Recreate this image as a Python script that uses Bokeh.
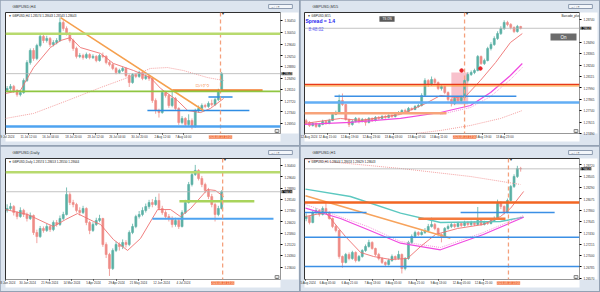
from bokeh.plotting import figure
from bokeh.models import (Range1d, FixedTicker, PrintfTickFormatter, Span, Label,
                          BoxAnnotation, ColumnDataSource)
from bokeh.layouts import row, column
from bokeh.embed import file_html
from bokeh.resources import INLINE

# ---------------- data: GBPUSD H4 ----------------
h4_open0 = 1.2808
h4_close = [1.2814, 1.2821, 1.2807, 1.2793, 1.2800, 1.2841, 1.2902, 1.2943, 1.2916, 1.2960,
            1.2991, 1.2977, 1.2984, 1.2963, 1.2970, 1.2977, 1.3038, 1.3018, 1.3001, 1.2977,
            1.2950, 1.2923, 1.2926, 1.2919, 1.2929, 1.2919, 1.2923, 1.2909, 1.2926, 1.2923,
            1.2902, 1.2895, 1.2882, 1.2868, 1.2875, 1.2882, 1.2858, 1.2834, 1.2861, 1.2855,
            1.2868, 1.2848, 1.2855, 1.2848, 1.2773, 1.2739, 1.2732, 1.2800, 1.2790, 1.2756,
            1.2780, 1.2746, 1.2698, 1.2712, 1.2691, 1.2705, 1.2685, 1.2739, 1.2746, 1.2756,
            1.2753, 1.2763, 1.2759, 1.2776, 1.2807, 1.28643]
h4_high = [1.2822, 1.2829, 1.2826, 1.2812, 1.2808, 1.2848, 1.2910, 1.2950, 1.2951, 1.2966,
           1.3000, 1.2998, 1.2993, 1.2989, 1.2978, 1.2985, 1.3055, 1.3046, 1.3025, 1.3006,
           1.2983, 1.2956, 1.2934, 1.2932, 1.2936, 1.2934, 1.2930, 1.2927, 1.2931, 1.2936,
           1.2927, 1.2908, 1.2900, 1.2887, 1.2881, 1.2888, 1.2886, 1.2862, 1.2866, 1.2867,
           1.2874, 1.2872, 1.2862, 1.2860, 1.2853, 1.2780, 1.2745, 1.2808, 1.2806, 1.2795,
           1.2808, 1.2785, 1.2750, 1.2720, 1.2716, 1.2726, 1.2712, 1.2745, 1.2756, 1.2763,
           1.2762, 1.2770, 1.2776, 1.2782, 1.2813, 1.2870]
h4_low = [1.2801, 1.2806, 1.2799, 1.2786, 1.2787, 1.2796, 1.2836, 1.2895, 1.2908, 1.2910,
          1.2954, 1.2968, 1.2970, 1.2955, 1.2957, 1.2964, 1.2972, 1.3010, 1.2994, 1.2970,
          1.2942, 1.2916, 1.2917, 1.2912, 1.2914, 1.2913, 1.2914, 1.2903, 1.2905, 1.2917,
          1.2896, 1.2889, 1.2876, 1.2862, 1.2863, 1.2870, 1.2852, 1.2819, 1.2830, 1.2849,
          1.2850, 1.2842, 1.2843, 1.2840, 1.2765, 1.2728, 1.2715, 1.2728, 1.2783, 1.2748,
          1.2750, 1.2738, 1.2690, 1.2692, 1.2684, 1.2686, 1.2675, 1.2680, 1.2732, 1.2740,
          1.2747, 1.2748, 1.2753, 1.2754, 1.2771, 1.2803]
h4_ma_fast_x = [-0.5, 4.0, 8.0, 13.1, 16.2, 19.2, 22.2, 28.3, 32.2, 38.3, 43.4, 46.5, 51.6, 54.7, 58.6, 61.6, 65.6]
h4_ma_fast_y = [1.2797, 1.2807, 1.2885, 1.2953, 1.2977, 1.2987, 1.2953, 1.2933, 1.2899, 1.2875,
                1.2851, 1.2814, 1.2773, 1.2739, 1.2732, 1.2746, 1.2780]
h4_ma_slow_x = [-0.5, 8.0, 18.3, 28.3, 38.3, 43.4, 48.6, 53.4, 60.7, 65.6]
h4_ma_slow_y = [1.2712, 1.2729, 1.2773, 1.2817, 1.2858, 1.2882, 1.2885, 1.2875, 1.2851, 1.2841]
h4_green_levels = [1.3000, 1.2804]
h4_resistance = 1.2807
h4_resistance_span = [50.1, 77.4]
h4_blue_levels = [1.2785, 1.2739]
h4_blue_spans = [[61.0, 68.3], [42.5, 73.4]]
h4_support = 1.2685
h4_trend_x = [16.2, 59.5]
h4_trend_y = [1.3055, 1.2739]
h4_price_ticks = [1.30450, 1.30050, 1.29640, 1.29250, 1.28880, 1.28490, 1.28110, 1.27720, 1.27340, 1.26950]
h4_time_ticks = [-0.45, 6.47, 13.14, 20.1, 26.8, 33.4, 40.1, 47.1, 53.4]
h4_time_labels = ["9 Jul 2024", "11 Jul 12:00", "16 Jul 04:00", "18 Jul 20:00", "23 Jul 12:00",
                  "26 Jul 04:00", "30 Jul 20:00", "2 Aug 12:00", "7 Aug 04:00"]

# ---------------- data: GBPUSD M15 ----------------
m15_open0 = 1.27630
m15_close = [1.27610, 1.27577, 1.27599, 1.27566, 1.27588, 1.27621, 1.27599, 1.27632, 1.27698, 1.27719,
             1.27851, 1.27807, 1.27643, 1.27588, 1.27621, 1.27654, 1.27621, 1.27643, 1.27610, 1.27654,
             1.27632, 1.27665, 1.27654, 1.27676, 1.27665, 1.27687, 1.27676, 1.27708, 1.27719, 1.27741,
             1.27730, 1.27763, 1.27752, 1.27785, 1.27796, 1.27906, 1.28070, 1.28026, 1.28081, 1.28048,
             1.27983, 1.28004, 1.27939, 1.27862, 1.27818, 1.27873, 1.27851, 1.27884, 1.28070, 1.28136,
             1.28158, 1.28180, 1.28333, 1.28257, 1.28289, 1.28421, 1.28465, 1.28531, 1.28585, 1.28640,
             1.28706, 1.28684, 1.28651, 1.28607, 1.28662, 1.28643]
m15_high = [1.27650, 1.27625, 1.27615, 1.27610, 1.27605, 1.27640, 1.27630, 1.27650, 1.27715, 1.27740,
            1.27917, 1.27928, 1.27815, 1.27650, 1.27640, 1.27670, 1.27665, 1.27660, 1.27655, 1.27670,
            1.27665, 1.27680, 1.27680, 1.27690, 1.27690, 1.27700, 1.27700, 1.27725, 1.27735, 1.27755,
            1.27760, 1.27780, 1.27775, 1.27800, 1.27815, 1.27930, 1.28095, 1.28085, 1.28114, 1.28100,
            1.28060, 1.28025, 1.28015, 1.27950, 1.27875, 1.27890, 1.27895, 1.27905, 1.28090, 1.28160,
            1.28180, 1.28200, 1.28350, 1.28345, 1.28310, 1.28440, 1.28490, 1.28555, 1.28610, 1.28665,
            1.28730, 1.28725, 1.28700, 1.28665, 1.28680, 1.28670]
m15_low = [1.27585, 1.27560, 1.27565, 1.27550, 1.27555, 1.27580, 1.27585, 1.27590, 1.27625, 1.27690,
           1.27710, 1.27790, 1.27630, 1.27560, 1.27575, 1.27610, 1.27600, 1.27610, 1.27575, 1.27600,
           1.27615, 1.27620, 1.27640, 1.27645, 1.27650, 1.27655, 1.27660, 1.27665, 1.27695, 1.27705,
           1.27715, 1.27720, 1.27740, 1.27745, 1.27770, 1.27785, 1.27895, 1.28000, 1.28010, 1.28030,
           1.27965, 1.27960, 1.27920, 1.27840, 1.27785, 1.27800, 1.27830, 1.27835, 1.27875, 1.28050,
           1.28120, 1.28140, 1.28170, 1.28240, 1.28240, 1.28280, 1.28400, 1.28450, 1.28515, 1.28570,
           1.28625, 1.28665, 1.28630, 1.28590, 1.28595, 1.28630]
m15_ma_fast_x = [-0.5, 10.4, 16.5, 28.6, 36.2, 40.7, 45.3, 48.3, 52.8, 57.4, 61.9, 65.5]
m15_ma_fast_y = [1.27599, 1.27654, 1.27632, 1.27698, 1.27818, 1.27906, 1.27884, 1.27895, 1.28070,
                 1.28267, 1.28487, 1.28585]
m15_ma_mid_x = [-0.5, 13.4, 28.6, 40.7, 49.8, 55.9, 61.9, 65.5]
m15_ma_mid_y = [1.27588, 1.27610, 1.27654, 1.27719, 1.27796, 1.27939, 1.28125, 1.28257]
m15_ma_mid2_x = [40.7, 49.8, 55.9, 61.9, 65.5]
m15_ma_mid2_y = [1.27698, 1.27774, 1.27895, 1.28081, 1.28213]
m15_ma_slow_x = [33.1, 40.7, 49.8, 58.9, 65.5]
m15_ma_slow_y = [1.27489, 1.27522, 1.27577, 1.27654, 1.27741]
m15_red_level = 1.28019
m15_blue_level = 1.27898
m15_blue_span = [8.6, 63.7]
m15_lightblue_level = 1.27829
m15_orange_level = 1.27712
m15_orange_span = [-0.5, 42.5]
m15_zone = [44.0, 49.1, 1.27807, 1.28158]
m15_signal_x = [47.1, 52.8]
m15_signal_y = [1.28180, 1.28202]
m15_price_ticks = [1.28740, 1.28490, 1.28365, 1.28240, 1.28115, 1.27990, 1.27865, 1.27740, 1.27615, 1.27490]
m15_time_ticks = [-0.45, 6.5, 13.2, 19.8, 26.5, 33.5, 40.2, 53.5, 60.2]
m15_time_labels = ["12 Aug 2024", "12 Aug 15:00", "12 Aug 19:00", "12 Aug 23:00", "13 Aug 03:00",
                   "13 Aug 07:00", "13 Aug 11:00", "13 Aug 19:00", "13 Aug 23:00"]

# ---------------- data: GBPUSD Daily ----------------
d1_open0 = 1.2740
d1_close = [1.2752, 1.2765, 1.2725, 1.2698, 1.2739, 1.2712, 1.2685, 1.2705, 1.2591, 1.2564,
            1.2618, 1.2605, 1.2631, 1.2611, 1.2658, 1.2645, 1.2685, 1.2712, 1.2846, 1.2792,
            1.2779, 1.2739, 1.2725, 1.2752, 1.2658, 1.2605, 1.2645, 1.2672, 1.2685, 1.2511,
            1.2444, 1.2350, 1.2471, 1.2511, 1.2497, 1.2524, 1.2511, 1.2591, 1.2631, 1.2698,
            1.2712, 1.2739, 1.2765, 1.2792, 1.2779, 1.2806, 1.2752, 1.2725, 1.2698, 1.2685,
            1.2645, 1.2672, 1.2631, 1.2725, 1.2792, 1.2913, 1.2980, 1.3007, 1.2953, 1.2913,
            1.2873, 1.2832, 1.2779, 1.2712, 1.2752, 1.28643]
d1_high = [1.2780, 1.2790, 1.2775, 1.2735, 1.2760, 1.2750, 1.2725, 1.2725, 1.2712, 1.2610,
           1.2635, 1.2632, 1.2650, 1.2645, 1.2672, 1.2675, 1.2705, 1.2730, 1.2893, 1.2860,
           1.2810, 1.2790, 1.2760, 1.2770, 1.2760, 1.2670, 1.2660, 1.2690, 1.2710, 1.2690,
           1.2525, 1.2455, 1.2485, 1.2530, 1.2525, 1.2545, 1.2540, 1.2605, 1.2650, 1.2710,
           1.2735, 1.2760, 1.2785, 1.2810, 1.2815, 1.2830, 1.2853, 1.2770, 1.2740, 1.2715,
           1.2700, 1.2690, 1.2685, 1.2740, 1.2810, 1.2930, 1.2995, 1.3044, 1.3015, 1.2970,
           1.2925, 1.2890, 1.2850, 1.2790, 1.2770, 1.2875]
d1_low = [1.2725, 1.2740, 1.2705, 1.2680, 1.2690, 1.2695, 1.2665, 1.2675, 1.2575, 1.2520,
          1.2555, 1.2590, 1.2595, 1.2595, 1.2600, 1.2630, 1.2635, 1.2675, 1.2705, 1.2775,
          1.2760, 1.2725, 1.2705, 1.2715, 1.2640, 1.2580, 1.2595, 1.2635, 1.2660, 1.2495,
          1.2420, 1.2300, 1.2340, 1.2460, 1.2470, 1.2480, 1.2490, 1.2500, 1.2580, 1.2620,
          1.2685, 1.2700, 1.2725, 1.2750, 1.2760, 1.2770, 1.2740, 1.2710, 1.2680, 1.2665,
          1.2625, 1.2630, 1.2615, 1.2625, 1.2715, 1.2785, 1.2900, 1.2970, 1.2940, 1.2895,
          1.2855, 1.2815, 1.2760, 1.2665, 1.2700, 1.2745]
d1_ma_x = [-0.5, 6.2, 14.0, 17.7, 21.3, 26.2, 28.3, 32.2, 36.5, 40.4, 45.6, 49.5, 52.5, 55.6, 60.7, 63.1, 65.6]
d1_ma_y = [1.2745, 1.2712, 1.2631, 1.2678, 1.2718, 1.2665, 1.2645, 1.2544, 1.2471, 1.2551,
           1.2745, 1.2745, 1.2698, 1.2752, 1.2879, 1.2873, 1.2832]
d1_green_top = 1.2995
d1_green_mid = 1.2801
d1_green_mid_span = [52.2, 74.9]
d1_blue_level = 1.2683
d1_blue_span = [44.0, 80.7]
d1_price_ticks = [1.30400, 1.29640, 1.28880, 1.28140, 1.27380, 1.26620, 1.25860, 1.25120, 1.24360, 1.23600]
d1_time_ticks = [-0.45, 6.2, 12.9, 19.6, 26.2, 33.2, 39.8, 46.8, 53.4]
d1_time_labels = ["8 Jan 2024", "30 Jan 2024", "21 Feb 2024", "14 Mar 2024", "5 Apr 2024",
                  "29 Apr 2024", "21 May 2024", "12 Jun 2024", "4 Jul 2024"]

# ---------------- data: GBPUSD H1 ----------------
h1_open0 = 1.27700
h1_close = [1.27740, 1.27627, 1.27816, 1.27854, 1.27778, 1.27892, 1.27816, 1.27702, 1.27551, 1.27475,
            1.26982, 1.26869, 1.27020, 1.26944, 1.27058, 1.26906, 1.26982, 1.27096, 1.27172, 1.27248,
            1.27134, 1.27020, 1.26944, 1.26869, 1.26831, 1.26906, 1.26982, 1.26944, 1.27020, 1.26755,
            1.26944, 1.27248, 1.27361, 1.27437, 1.27399, 1.27437, 1.27475, 1.27551, 1.27589, 1.27513,
            1.27399, 1.27361, 1.27513, 1.27551, 1.27589, 1.27551, 1.27608, 1.27570, 1.27627, 1.27589,
            1.27627, 1.27589, 1.27665, 1.27589, 1.27627, 1.27608, 1.27665, 1.27702, 1.28006, 1.27930,
            1.27816, 1.28043, 1.28309, 1.28498, 1.28650, 1.28643]
h1_high = [1.27800, 1.27760, 1.27850, 1.27900, 1.27880, 1.27930, 1.28010, 1.27840, 1.27720, 1.27580,
           1.27490, 1.27000, 1.27050, 1.27060, 1.27090, 1.27080, 1.27010, 1.27120, 1.27210, 1.27300,
           1.27270, 1.27150, 1.27050, 1.26970, 1.26890, 1.26940, 1.27020, 1.27000, 1.27090, 1.27040,
           1.26970, 1.27280, 1.27400, 1.27470, 1.27460, 1.27480, 1.27520, 1.27600, 1.27720, 1.27620,
           1.27530, 1.27420, 1.27540, 1.27590, 1.27620, 1.27610, 1.27640, 1.27630, 1.27660, 1.27650,
           1.27660, 1.27650, 1.27920, 1.27690, 1.27660, 1.27650, 1.27690, 1.27740, 1.28060, 1.28030,
           1.27950, 1.28080, 1.28340, 1.28540, 1.28700, 1.28680]
h1_low = [1.27650, 1.27590, 1.27610, 1.27790, 1.27740, 1.27760, 1.27790, 1.27680, 1.27520, 1.27440,
          1.26940, 1.26770, 1.26850, 1.26910, 1.26920, 1.26870, 1.26880, 1.26960, 1.27070, 1.27150,
          1.27110, 1.26990, 1.26910, 1.26840, 1.26800, 1.26810, 1.26880, 1.26910, 1.26920, 1.26660,
          1.26720, 1.26920, 1.27220, 1.27330, 1.27370, 1.27380, 1.27410, 1.27450, 1.27530, 1.27480,
          1.27360, 1.27250, 1.27340, 1.27490, 1.27520, 1.27520, 1.27530, 1.27540, 1.27550, 1.27560,
          1.27560, 1.27560, 1.27570, 1.27560, 1.27570, 1.27580, 1.27590, 1.27640, 1.27690, 1.27880,
          1.27780, 1.27800, 1.28020, 1.28280, 1.28470, 1.28590]
h1_teal_x = [-0.2, 13.4, 28.6, 40.7, 58.9, 65.9]
h1_teal_y = [1.28258, 1.28119, 1.27803, 1.27627, 1.27646, 1.27727]
h1_magenta_x = [-0.2, 10.4, 18.6, 28.6, 40.7, 53.7, 65.9]
h1_magenta_y = [1.27898, 1.27702, 1.27494, 1.27234, 1.27109, 1.27399, 1.27727]
h1_pink_x = [-0.2, 18.6, 28.6, 40.7, 53.7, 65.9]
h1_pink_y = [1.27968, 1.27551, 1.27266, 1.27152, 1.27437, 1.27759]
h1_fast_x = [-0.2, 5.9, 11.9, 16.5, 20.4, 25.6, 30.7, 34.7, 39.2, 45.9, 53.7, 58.9, 61.9, 65.9]
h1_fast_y = [1.27740, 1.27816, 1.27361, 1.27058, 1.26982, 1.26925, 1.26944, 1.27172, 1.27399,
             1.27513, 1.27589, 1.27740, 1.27892, 1.28214]
h1_slow_x = [-0.2, 28.6, 49.8, 64.9]
h1_slow_y = [1.28820, 1.28650, 1.28498, 1.28347]
h1_trend_x = [-0.2, 43.7]
h1_trend_y = [1.28133, 1.27329]
h1_orange_level = 1.28006
h1_blue_mid = 1.27816
h1_blue_mid_spans = [[-0.5, 18.3], [46.8, 75.3]]
h1_orange_short = 1.27697
h1_orange_short_span = [34.0, 60.4]
h1_blue_levels = [1.27348, 1.26793]
h1_price_ticks = [1.28720, 1.28505, 1.28290, 1.28075, 1.27860, 1.27645, 1.27430, 1.27215, 1.27000,
                  1.26785, 1.26570]
h1_time_ticks = [-0.2, 6.5, 13.2, 20.1, 26.5, 33.4, 40.1, 47.1, 53.8]
h1_time_labels = ["5 Aug 2024", "6 Aug 05:00", "6 Aug 21:00", "7 Aug 13:00", "8 Aug 05:00",
                  "8 Aug 21:00", "9 Aug 13:00", "12 Aug 05:00", "12 Aug 21:00"]

last_price = 1.28643
stamp_text = "2024.08.13 13:00"

# ---------------- styling ----------------
CHROME = "#dde5ef"
BULL = "#5bb0a5"
BEAR = "#ef8b86"
FONT = "Liberation Sans"
FRAME_W, FRAME_H = 275, 121
XSPAN = 83.33


def fr(ylo, yhi, sx, sy):
    return (-0.5 + sx * XSPAN / FRAME_W, yhi - sy * (yhi - ylo) / FRAME_H)


def add_label(p, ylo, yhi, sx, sy, text, size="3px", color="#222222", align="left",
              bg=None, border=None, pad=0, bold=False, font=FONT, side=None):
    x, y = fr(ylo, yhi, sx, sy)
    lab = Label(x=x, y=y, text=text, text_font_size=size, text_color=color,
                text_align=align, text_baseline="middle", text_font=font,
                text_font_style="bold" if bold else "normal",
                background_fill_color=bg, border_line_color=border, padding=pad)
    if side is None:
        p.add_layout(lab)
    else:
        p.add_layout(lab, side)


def panel(title, info, o0, close, high, low, ylo, yhi, pticks, tticks, tlabels, dash,
          left, right):
    p = figure(width=299, height=145, margin=(0, 1, 1, 0), output_backend="svg",
               toolbar_location=None, title=None, x_range=Range1d(-0.5, -0.5 + XSPAN),
               y_range=Range1d(ylo, yhi), y_axis_location="right",
               min_border_left=left, min_border_right=right, min_border_top=12,
               min_border_bottom=12, background_fill_color="white",
               border_fill_color=CHROME, outline_line_color="#303030", outline_line_width=1)
    p.grid.visible = False

    yax = p.yaxis[0]
    yax.ticker = FixedTicker(ticks=pticks)
    yax.formatter = PrintfTickFormatter(format="%.5f")
    yax.major_label_text_font = FONT
    yax.major_label_text_font_size = "3px"
    yax.major_label_text_color = "#333333"
    yax.major_tick_out = 2
    yax.major_tick_in = 0
    yax.minor_tick_line_color = None
    yax.axis_line_color = None
    yax.major_label_standoff = 2
    yax.background_fill_color = "white"

    xax = p.xaxis[0]
    xax.ticker = FixedTicker(ticks=tticks)
    xax.major_label_overrides = {t: l for t, l in zip(tticks, tlabels)}
    xax.major_label_text_align = "left"
    xax.major_label_text_font = FONT
    xax.major_label_text_font_size = "3px"
    xax.major_label_text_color = "#333333"
    xax.major_tick_out = 1
    xax.major_tick_in = 0
    xax.minor_tick_line_color = None
    xax.axis_line_color = None
    xax.major_label_standoff = 1
    xax.background_fill_color = "white"

    opens = [o0] + close[:-1]
    n = len(close)
    src = ColumnDataSource(dict(
        x=list(range(n)),
        top=[max(o, c) for o, c in zip(opens, close)],
        bot=[min(o, c) for o, c in zip(opens, close)],
        hi=[max(h, o, c) for h, o, c in zip(high, opens, close)],
        lo=[min(l, o, c) for l, o, c in zip(low, opens, close)],
        col=[BULL if c >= o else BEAR for o, c in zip(opens, close)]))
    p.segment(x0="x", y0="hi", x1="x", y1="lo", line_color="col", line_width=0.8, source=src)
    p.vbar(x="x", width=0.6, top="top", bottom="bot", fill_color="col", line_color="col",
           line_width=0.6, source=src)

    p.add_layout(Span(location=last_price, dimension="width", line_color="#b4b4b4", line_width=0.8))
    p.add_layout(Span(location=dash, dimension="height", line_color="#f4a07c", line_width=1.3,
                      line_dash="4 3"))

    xd = (dash + 0.5) * FRAME_W / XSPAN
    # chart info line, time-line marker and scroll button (inside the chart)
    add_label(p, ylo, yhi, 3, 3.5, info, size="3px", color="#222222")
    add_label(p, ylo, yhi, xd + 2.5, 1.8, "\u25be", size="3.5px", color="#333333", align="center")
    add_label(p, ylo, yhi, 271.5, 118.5, "+", size="3px", color="#333333", align="center",
              bg="#e8e8e8", border="#888888", pad=(1, 1, 0, 0))
    # window title (title bar) -- side panel labels so they are not clipped by the frame
    add_label(p, ylo, yhi, 12 - left, -6, title, size="4px", color="#333333", side="above")
    add_label(p, ylo, yhi, 280 - left, -6, "\u2013      \u25a1      \u00d7", size="3.5px",
              color="#333333", align="center", bg="#f3f6fa", border="#8d9bb0", pad=(3, 3, 0, 0),
              side="above")
    # current price box on the price scale
    add_label(p, ylo, yhi, FRAME_W + 1, (yhi - last_price) / (yhi - ylo) * FRAME_H,
              "1.28643", size="3px", color="white", bg="#111111", side="above")
    # time stamp of the vertical line on the time scale
    add_label(p, ylo, yhi, xd, FRAME_H + 3.5, stamp_text, size="3px", color="#ffe9dc",
              align="center", bg="#f26b3a", side="below")
    return p


# ---------------- H4 ----------------
h4_lo, h4_hi = 1.26608, 1.30722
p1 = panel("GBPUSD,H4", "\u25bc GBPUSD,H4  1.28574 1.28643 1.28543 1.28643", h4_open0,
           h4_close, h4_high, h4_low, h4_lo, h4_hi, h4_price_ticks, h4_time_ticks,
           h4_time_labels, 64.65, 5, 19)
p1.line(h4_ma_slow_x, h4_ma_slow_y, line_color="#f3a0a0", line_width=1, line_dash="1 1")
p1.line(h4_ma_fast_x, h4_ma_fast_y, line_color="#ee7070", line_width=0.9)
p1.add_layout(Span(location=h4_green_levels[0], dimension="width", line_color="#b8da6e", line_width=2.5))
p1.add_layout(Span(location=h4_green_levels[1], dimension="width", line_color="#8fc641", line_width=1.8))
p1.segment([h4_resistance_span[0]], [h4_resistance], [h4_resistance_span[1]], [h4_resistance],
           line_color="#f47a2c", line_width=2.5)
for lv, sp in zip(h4_blue_levels, h4_blue_spans):
    p1.segment([sp[0]], [lv], [sp[1]], [lv], line_color="#2f8de4", line_width=1.6)
p1.add_layout(Span(location=h4_support, dimension="width", line_color="#4ea3f0", line_width=2.5))
p1.line(h4_trend_x, h4_trend_y, line_color="#f5a04e", line_width=1.5)
add_label(p1, h4_lo, h4_hi, 190, 73, "ロバゲウ", size="3.5px", color="#f47a2c",
          font="Noto Sans CJK JP")

# ---------------- M15 ----------------
m15_lo, m15_hi = 1.27489, 1.28816
p2 = panel("GBPUSD,M15", "\u25bc GBPUSD,M15", m15_open0, m15_close, m15_high, m15_low,
           m15_lo, m15_hi, m15_price_ticks, m15_time_ticks, m15_time_labels, 48.0, 4, 20)
p2.add_layout(BoxAnnotation(left=m15_zone[0], right=m15_zone[1], bottom=m15_zone[2],
                            top=m15_zone[3], fill_color="#f38ea3", fill_alpha=0.55,
                            line_color=None, level="underlay"))
p2.line(m15_ma_slow_x, m15_ma_slow_y, line_color="#f3a0a0", line_width=1, line_dash="1 1")
p2.line(m15_ma_mid2_x, m15_ma_mid2_y, line_color="#f39ad8", line_width=1, line_dash="1 1")
p2.line(m15_ma_mid_x, m15_ma_mid_y, line_color="#f04ae0", line_width=1.2)
p2.line(m15_ma_fast_x, m15_ma_fast_y, line_color="#ee7070", line_width=0.9)
p2.add_layout(Span(location=m15_red_level + 0.00008, dimension="width", line_color="#e8391a", line_width=1.3))
p2.add_layout(Span(location=m15_red_level - 0.00008, dimension="width", line_color="#fb9b40", line_width=1.3))
p2.segment([m15_blue_span[0]], [m15_blue_level], [m15_blue_span[1]], [m15_blue_level],
           line_color="#3b8fe5", line_width=1.5)
p2.add_layout(Span(location=m15_lightblue_level, dimension="width", line_color="#62aef5", line_width=2.5))
p2.segment([m15_orange_span[0]], [m15_orange_level], [m15_orange_span[1]], [m15_orange_level],
           line_color="#f7a37a", line_width=2.5)
p2.scatter(m15_signal_x, m15_signal_y, size=3.5, color="#e8262b")
add_label(p2, m15_lo, m15_hi, 1, 8.5, "Spread = 1.4", size="5px", color="#1c1cf0", bold=True)
add_label(p2, m15_lo, m15_hi, 4, 17, "8:48:02", size="4.5px", color="#5b5bf5")
add_label(p2, m15_lo, m15_hi, 82.5, 6.5, "TS ON", size="3px", color="white", align="center",
          bg="#5a5a5a", pad=(3, 3, 1, 1))
add_label(p2, m15_lo, m15_hi, 257, 3.5, "Barcode_plus \u22a0", size="3px", color="#222222")
add_label(p2, m15_lo, m15_hi, 259, 24.5, "On", size="4.5px", color="white", align="center",
          bg="#6b6b6b", pad=(10, 10, 1, 1))

# ---------------- Daily ----------------
d1_lo, d1_hi = 1.22763, 1.30870
p3 = panel("GBPUSD,Daily", "\u25bc GBPUSD,Daily  1.28574 1.28653 1.28550 1.28644", d1_open0,
           d1_close, d1_high, d1_low, d1_lo, d1_hi, d1_price_ticks, d1_time_ticks,
           d1_time_labels, 65.3, 5, 19)
p3.line(d1_ma_x, d1_ma_y, line_color="#ee7070", line_width=0.9)
p3.add_layout(Span(location=d1_green_top, dimension="width", line_color="#b8da6e", line_width=2.5))
p3.segment([d1_green_mid_span[0]], [d1_green_mid], [d1_green_mid_span[1]], [d1_green_mid],
           line_color="#a9d45c", line_width=2.5)
p3.segment([d1_blue_span[0]], [d1_blue_level], [d1_blue_span[1]], [d1_blue_level],
           line_color="#4ea3f0", line_width=2)

# ---------------- H1 ----------------
h1_lo, h1_hi = 1.26546, 1.28839
p4 = panel("GBPUSD,H1", "\u25bc GBPUSD,H1  1.28644 1.28653 1.28629 1.28643", h1_open0,
           h1_close, h1_high, h1_low, h1_lo, h1_hi, h1_price_ticks, h1_time_ticks,
           h1_time_labels, 61.3, 4, 20)
p4.line(h1_slow_x, h1_slow_y, line_color="#f3a0a0", line_width=1, line_dash="1 1")
p4.line(h1_teal_x, h1_teal_y, line_color="#5cc8c0", line_width=1.4)
p4.line(h1_pink_x, h1_pink_y, line_color="#f39ad8", line_width=1, line_dash="1 1")
p4.line(h1_magenta_x, h1_magenta_y, line_color="#f04ae0", line_width=1.2)
p4.line(h1_fast_x, h1_fast_y, line_color="#ee7070", line_width=0.9)
p4.line(h1_trend_x, h1_trend_y, line_color="#f7a35c", line_width=1.5)
p4.add_layout(Span(location=h1_orange_level, dimension="width", line_color="#f26522", line_width=2.5))
for sp in h1_blue_mid_spans:
    p4.segment([sp[0]], [h1_blue_mid], [sp[1]], [h1_blue_mid], line_color="#3b8fe5", line_width=1.5)
p4.segment([h1_orange_short_span[0]], [h1_orange_short], [h1_orange_short_span[1]],
           [h1_orange_short], line_color="#f47b3e", line_width=2.5)
for lv in h1_blue_levels:
    p4.add_layout(Span(location=lv, dimension="width", line_color="#3b8fe5", line_width=1.6))

layout = column(row(p1, p2), row(p3, p4), styles={"background-color": "#93a1b3"})
open("out.html", "w").write(file_html(layout, INLINE))
